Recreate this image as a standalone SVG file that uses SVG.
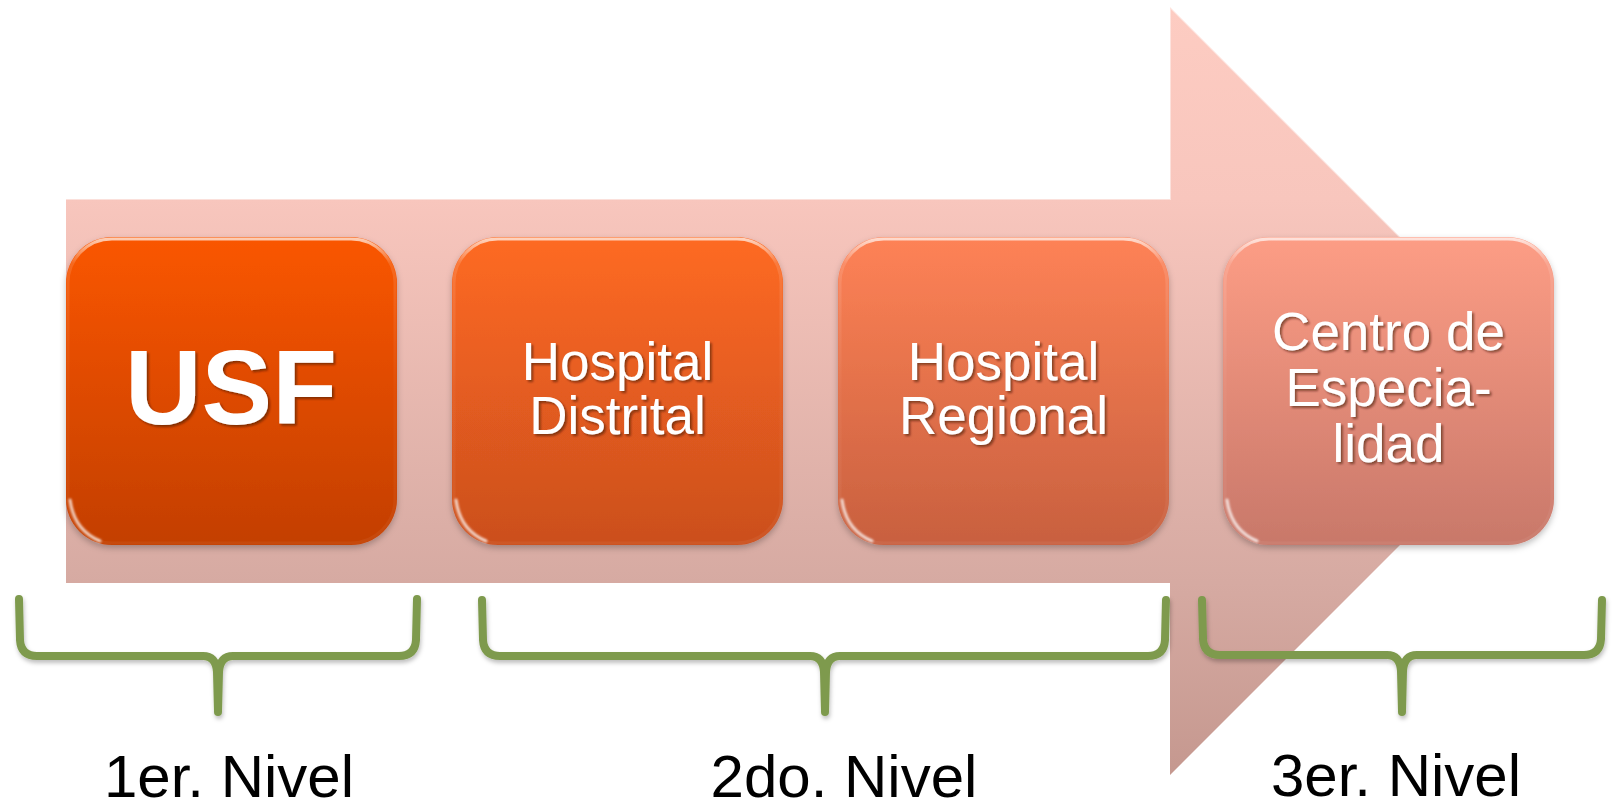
<svg xmlns="http://www.w3.org/2000/svg" width="1615" height="806" viewBox="0 0 1615 806">
  <defs>
    <linearGradient id="arrowGrad" gradientUnits="userSpaceOnUse" x1="0" y1="7" x2="0" y2="775">
      <stop offset="0" stop-color="#FDCCC2"/>
      <stop offset="0.25" stop-color="#F8C6BD"/>
      <stop offset="0.75" stop-color="#D6AAA2"/>
      <stop offset="1" stop-color="#C5988F"/>
    </linearGradient>
    <linearGradient id="g1" x1="0" y1="0" x2="0" y2="1">
      <stop offset="0" stop-color="#FA5600"/>
      <stop offset="1" stop-color="#C33F00"/>
    </linearGradient>
    <linearGradient id="g2" x1="0" y1="0" x2="0" y2="1">
      <stop offset="0" stop-color="#FE6A22"/>
      <stop offset="1" stop-color="#CB4F1E"/>
    </linearGradient>
    <linearGradient id="g3" x1="0" y1="0" x2="0" y2="1">
      <stop offset="0" stop-color="#FE8256"/>
      <stop offset="1" stop-color="#C8603F"/>
    </linearGradient>
    <linearGradient id="g4" x1="0" y1="0" x2="0" y2="1">
      <stop offset="0" stop-color="#FD9D85"/>
      <stop offset="1" stop-color="#C8786A"/>
    </linearGradient>
    <linearGradient id="hl" x1="0" y1="0" x2="0" y2="1">
      <stop offset="0" stop-color="#FFFFFF" stop-opacity="0.7"/>
      <stop offset="0.08" stop-color="#FFFFFF" stop-opacity="0.12"/>
      <stop offset="0.5" stop-color="#FFFFFF" stop-opacity="0.03"/>
      <stop offset="1" stop-color="#FFFFFF" stop-opacity="0.05"/>
    </linearGradient>
    <filter id="boxShadow" x="-10%" y="-10%" width="120%" height="125%">
      <feDropShadow dx="0" dy="3" stdDeviation="3" flood-color="#000" flood-opacity="0.25"/>
    </filter>
    <filter id="textShadow" x="-10%" y="-20%" width="120%" height="140%">
      <feDropShadow dx="2" dy="2" stdDeviation="1.2" flood-color="#3a1000" flood-opacity="0.55"/>
    </filter>
    <filter id="brShadow" x="-5%" y="-20%" width="110%" height="140%">
      <feDropShadow dx="1" dy="3" stdDeviation="2" flood-color="#000" flood-opacity="0.25"/>
    </filter>
    <filter id="soft" x="-20%" y="-20%" width="140%" height="140%">
      <feGaussianBlur stdDeviation="0.8"/>
    </filter>
  </defs>
  <style>
    .box { filter: url(#boxShadow); }
    .gloss { fill: none; stroke: url(#hl); stroke-width: 3; }
    .corner { fill: none; stroke: #FFFFFF; stroke-opacity: 0.75; stroke-width: 3; stroke-linecap: round; filter: url(#soft); }
    .lbl { font-family: "Liberation Sans", Arial, sans-serif; fill: #FFFFFF; text-anchor: middle; font-size: 53px; filter: url(#textShadow); }
    .big { font-size: 106px; font-weight: bold; }
    .lvl { font-family: "Liberation Sans", Arial, sans-serif; fill: #000000; text-anchor: middle; font-size: 60px; }
    .brace { fill: none; stroke: #7E9A4D; stroke-width: 8; stroke-linecap: round; stroke-linejoin: round; filter: url(#brShadow); }
  </style>

  <rect width="1615" height="806" fill="#FFFFFF"/>

  <g id="arrow">
    <path d="M66,199 L1170,199 L1170,7 L1554,391 L1170,775 L1170,583 L66,583 Z" fill="url(#arrowGrad)"/>
    <path d="M66,199 L1170,199 L1170,7 L1554,391" fill="none" stroke="#FFFFFF" stroke-opacity="0.45" stroke-width="2"/>
  </g>

  <g id="node-usf">
    <rect class="box" x="66" y="237" width="331" height="308" rx="46" fill="url(#g1)"/>
    <rect class="gloss" x="68" y="239" width="327" height="304" rx="44"/>
    <path class="corner" d="M70,500 Q74,530 100,541"/>
    <text class="lbl big" x="231" y="424">USF</text>
  </g>

  <g id="node-hospital-distrital">
    <rect class="box" x="452" y="237" width="331" height="308" rx="46" fill="url(#g2)"/>
    <rect class="gloss" x="454" y="239" width="327" height="304" rx="44"/>
    <path class="corner" d="M456,500 Q460,530 486,541"/>
    <text class="lbl" x="617.5" y="380">Hospital</text>
    <text class="lbl" x="617.5" y="434">Distrital</text>
  </g>

  <g id="node-hospital-regional">
    <rect class="box" x="838" y="237" width="331" height="308" rx="46" fill="url(#g3)"/>
    <rect class="gloss" x="840" y="239" width="327" height="304" rx="44"/>
    <path class="corner" d="M842,500 Q846,530 872,541"/>
    <text class="lbl" x="1003.5" y="380">Hospital</text>
    <text class="lbl" x="1003.5" y="434">Regional</text>
  </g>

  <g id="node-centro-especialidad">
    <rect class="box" x="1223" y="237" width="331" height="308" rx="46" fill="url(#g4)"/>
    <rect class="gloss" x="1225" y="239" width="327" height="304" rx="44"/>
    <path class="corner" d="M1227,500 Q1231,530 1257,541"/>
    <text class="lbl" x="1388.5" y="350">Centro de</text>
    <text class="lbl" x="1388.5" y="406">Especia-</text>
    <text class="lbl" x="1388.5" y="462">lidad</text>
  </g>

  <g id="connectors">
    <path class="brace" d="M19,599 L20,640 Q21,656 37,656 L203,656 Q216,656 217,672 L218,712 M417,599 L416,640 Q415,656 399,656 L233,656 Q220,656 219,672 L218,712"/>
    <path class="brace" d="M482,600 L483,640 Q484,656 500,656 L810,656 Q823,656 824,672 L825,712 M1166,600 L1165,640 Q1164,656 1148,656 L840,656 Q827,656 826,672 L825,712"/>
    <path class="brace" d="M1202,600 L1203,639 Q1204,655 1220,655 L1387,655 Q1400,655 1401,671 L1402,712 M1602,600 L1601,639 Q1600,655 1584,655 L1417,655 Q1404,655 1403,671 L1402,712"/>
  </g>

  <g id="levels">
    <text class="lvl" x="229" y="797">1er. Nivel</text>
    <text class="lvl" x="844" y="797">2do. Nivel</text>
    <text class="lvl" x="1396" y="796">3er. Nivel</text>
  </g>
</svg>
